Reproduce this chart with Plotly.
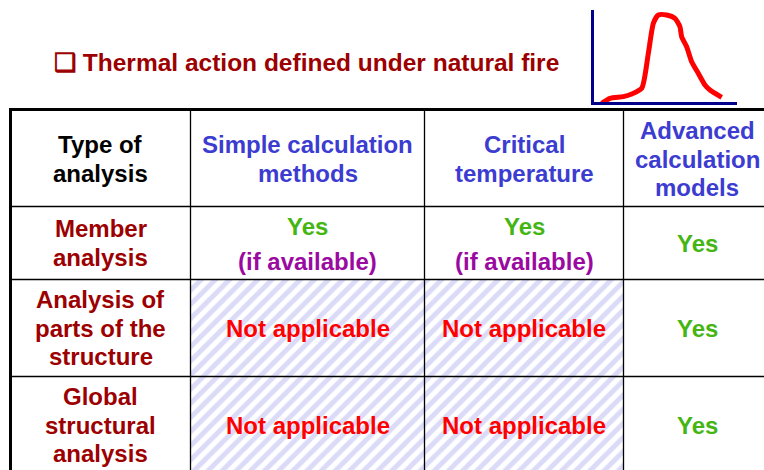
import plotly.graph_objects as go

# ---------------- data ----------------
title_text = "❑ Thermal action defined under natural fire"
corner_label = "Type of<br>analysis"
methods = ["Simple calculation<br>methods", "Critical<br>temperature", "Advanced<br>calculation<br>models"]
analysis_types = ["Member<br>analysis", "Analysis of<br>parts of the<br>structure", "Global<br>structural<br>analysis"]
applicability = [
    ["Yes|(if available)", "Yes|(if available)", "Yes"],
    ["Not applicable", "Not applicable", "Yes"],
    ["Not applicable", "Not applicable", "Yes"],
]
# sketch of a natural-fire temperature curve (time, temperature), arbitrary units
fire_time = [5.4, 11.2, 20.5, 26.4, 33.4, 38.0, 41.5, 45.0, 50.8, 56.6, 60.1, 61.3, 64.8, 68.3, 72.9, 77.6, 81.1, 89.3]
fire_temp = [-1.4, 4.0, 5.8, 8.7, 14.9, 52.9, 85.5, 94.6, 94.6, 91.0, 81.8, 71.0, 60.1, 43.8, 31.2, 18.5, 13.0, 5.1]

# ---------------- layout geometry (pixels) ----------------
W, H = 764, 470
col_edges = [10.5, 190.5, 424.5, 623.5, 775]
row_edges = [109.5, 206.5, 279.5, 376.5, 475]
line_gap = 28.7
FONT = "Liberation Sans, Arial, sans-serif"

C_HEAD = "#000000"
C_METHOD = "#3c3cd0"
C_ROW = "#9c0000"
C_YES = "#44b512"
C_NOTE = "#9a0aa0"
C_NA = "#ff0000"
C_HATCH = "#b8b8f2"

fig = go.Figure()

# hatched "not applicable" region
hx0, hx1 = col_edges[1], col_edges[3]
hy0, hy1 = row_edges[2], row_edges[4]
fig.add_trace(go.Scatter(
    x=[hx0, hx1, hx1, hx0, hx0], y=[hy0, hy0, hy1, hy1, hy0],
    mode="lines", fill="toself", line=dict(width=0),
    fillcolor="white",
    fillpattern=dict(shape="/", fgcolor=C_HATCH, bgcolor="white", size=10, solidity=0.5),
    hoverinfo="skip", showlegend=False, xaxis="x", yaxis="y"))

# fire curve inset
fig.add_trace(go.Scatter(
    x=fire_time, y=fire_temp, mode="lines",
    line=dict(color="#ff0000", width=5, shape="spline", smoothing=0.6),
    cliponaxis=False, hoverinfo="skip", showlegend=False,
    xaxis="x2", yaxis="y2"))

shapes = []
for i, x in enumerate(col_edges[:-1]):
    shapes.append(dict(type="line", xref="x", yref="y", x0=x, x1=x,
                       y0=row_edges[0], y1=row_edges[-1],
                       line=dict(color="black", width=3 if i == 0 else 1.3), layer="above"))
for j, y in enumerate(row_edges[:-1]):
    shapes.append(dict(type="line", xref="x", yref="y", x0=col_edges[0] - 1.5, x1=col_edges[-1],
                       y0=y, y1=y,
                       line=dict(color="black", width=3 if j == 0 else 1.3), layer="above"))

annotations = []


def add_lines(text, cx, cy, color, gap=line_gap, size=24):
    parts = text.split("<br>")
    n = len(parts)
    for k, p in enumerate(parts):
        annotations.append(dict(
            x=cx, y=cy + (k - (n - 1) / 2) * gap, xref="x", yref="y",
            text="<b>" + p + "</b>", showarrow=False, xanchor="center", yanchor="middle",
            font=dict(family=FONT, size=size, color=color)))


col_centers = [(col_edges[i] + col_edges[i + 1]) / 2 for i in range(4)]
col_centers[3] = 697
row_centers = [(row_edges[j] + row_edges[j + 1]) / 2 for j in range(4)]
row_centers[3] = 425

add_lines(corner_label, col_centers[0], row_centers[0] + 1, C_HEAD)
for i, m in enumerate(methods):
    add_lines(m, col_centers[i + 1], row_centers[0] + 1, C_METHOD)
for j, a in enumerate(analysis_types):
    add_lines(a, col_centers[0], row_centers[j + 1], C_ROW)
    for i, v in enumerate(applicability[j]):
        cx, cy = col_centers[i + 1], row_centers[j + 1]
        if "|" in v:
            yes, note = v.split("|")
            add_lines(yes, cx, cy - 17, C_YES)
            add_lines(note, cx, cy + 18, C_NOTE)
        elif v == "Yes":
            add_lines(v, cx, cy, C_YES)
        else:
            add_lines(v, cx, cy, C_NA)

# title
annotations.append(dict(
    x=52, y=62, xref="x", yref="y", text="<b>" + title_text + "</b>", showarrow=False,
    xanchor="left", yanchor="middle",
    font=dict(family=FONT, size=24.5, color="#9c0000")))

fig.update_layout(
    width=W, height=H,
    margin=dict(l=0, r=0, t=0, b=0),
    paper_bgcolor="white", plot_bgcolor="rgba(0,0,0,0)",
    xaxis=dict(range=[0, W], domain=[0, 1], visible=False, fixedrange=True),
    yaxis=dict(range=[H, 0], domain=[0, 1], visible=False, fixedrange=True),
    xaxis2=dict(domain=[594 / W, 737 / W], range=[0, 100], anchor="y2",
                showline=True, linecolor="#00008b", linewidth=3,
                showgrid=False, zeroline=False, showticklabels=False, ticks=""),
    yaxis2=dict(domain=[1 - 102 / H, 1 - 10 / H], range=[0, 100], anchor="x2",
                showline=True, linecolor="#00008b", linewidth=3,
                showgrid=False, zeroline=False, showticklabels=False, ticks=""),
    shapes=shapes, annotations=annotations,
    showlegend=False,
)

fig.write_html("out.html", config={"displayModeBar": False},
               post_script="document.body.style.margin='0';document.body.style.overflow='hidden';")
